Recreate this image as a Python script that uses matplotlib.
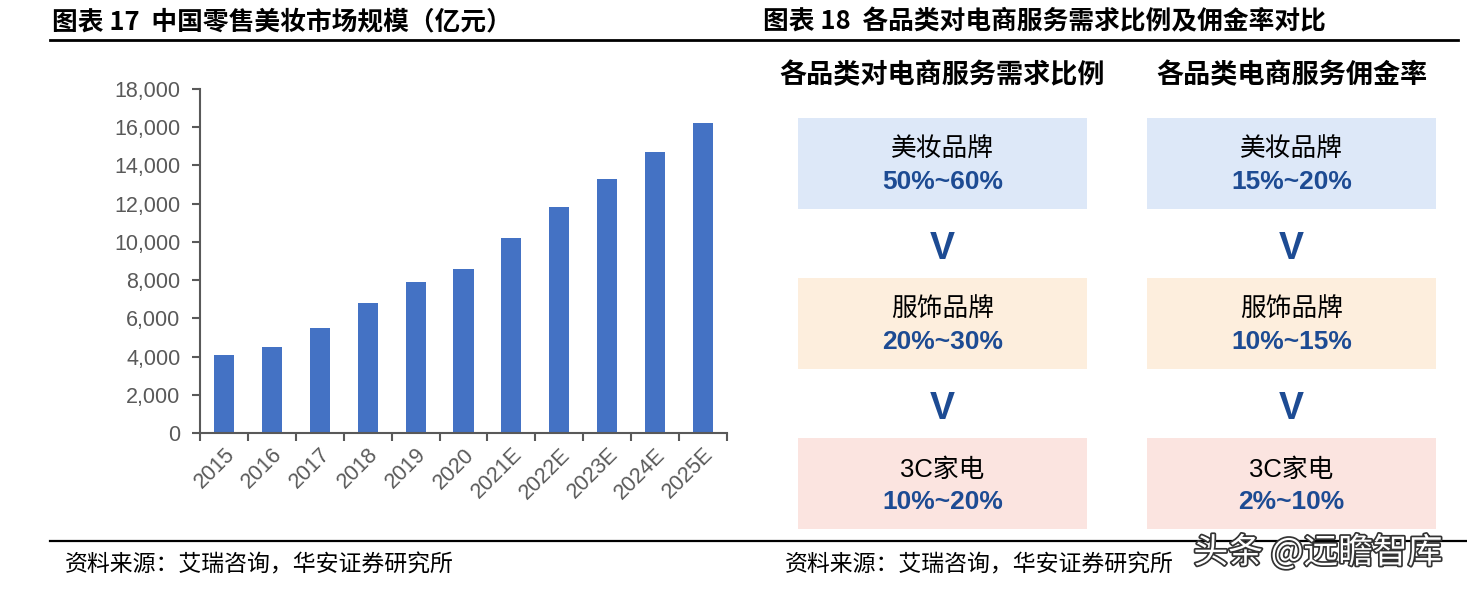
import numpy as np
import matplotlib.pyplot as plt
from matplotlib.patches import Rectangle
from matplotlib.ticker import FuncFormatter, FixedLocator
import matplotlib.patheffects as pe

plt.rcParams['font.family'] = ['Noto Sans CJK SC', 'DejaVu Sans']

# chart 17 data
years = ["2015", "2016", "2017", "2018", "2019", "2020",
         "2021E", "2022E", "2023E", "2024E", "2025E"]
market = [4100, 4500, 5500, 6800, 7900, 8600, 10200, 11800, 13300, 14700, 16200]

# chart 18 data
col_titles = ["各品类对电商服务需求比例", "各品类电商服务佣金率"]
categories = ["美妆品牌", "服饰品牌", "3C家电"]
demand_ratio = ["50%~60%", "20%~30%", "10%~20%"]
commission = ["15%~20%", "10%~15%", "2%~10%"]

W, H = 1467, 591
fig = plt.figure(figsize=(W / 100, H / 100), dpi=100)

# overlay in pixel coords for titles, lines and boxes
ov = fig.add_axes([0, 0, 1, 1])
ov.set_xlim(0, W)
ov.set_ylim(H, 0)
ov.axis("off")

ov.text(52, 22, "图表 17  中国零售美妆市场规模（亿元）", fontsize=18.5, fontweight="bold",
        va="center", ha="left")
ov.text(763, 22, "图表 18  各品类对电商服务需求比例及佣金率对比", fontsize=18.5, fontweight="bold",
        va="center", ha="left")
ov.plot([50, 1458], [40, 40], color="black", lw=2)
ov.plot([50, 1467], [541, 541], color="black", lw=1.6)
ov.text(65, 565, "资料来源：艾瑞咨询，华安证券研究所", fontsize=16.5, va="center", ha="left")
ov.text(785, 565, "资料来源：艾瑞咨询，华安证券研究所", fontsize=16.5, va="center", ha="left")

# boxes
box_colors = ["#dde8f8", "#fdeedd", "#fbe4e0"]
blue = "#1d4b93"
col_x = [798, 1147]
box_w = 289
row_y = [118, 278, 438]
box_h = 91
col_vals = [demand_ratio, commission]
for c in range(2):
    cx = col_x[c] + box_w / 2
    ov.text(cx, 75, col_titles[c], fontsize=19.5, fontweight="bold", ha="center", va="center")
    for r in range(3):
        ov.add_patch(Rectangle((col_x[c], row_y[r]), box_w, box_h,
                               facecolor=box_colors[r], edgecolor="none"))
        ov.text(cx, row_y[r] + 32, categories[r], fontsize=18.5, ha="center", va="center",
                family=["Liberation Sans", "Noto Sans CJK SC"])
        ov.text(cx, row_y[r] + 64, col_vals[c][r], fontsize=19, fontweight="bold",
                color=blue, ha="center", va="center", family="Liberation Sans")
        if r < 2:
            ov.text(cx, row_y[r] + box_h + 40, "V", fontsize=27, fontweight="bold",
                    color=blue, ha="center", va="center", family="Liberation Sans")

# watermark
ov.text(1318, 553, "头条 @远瞻智库", fontsize=25, color="white", ha="center", va="center",
        path_effects=[pe.withStroke(linewidth=2.5, foreground="#333333")])

# bar chart
ax = fig.add_axes([200 / W, (H - 433) / H, (727 - 200) / W, (433 - 89) / H])
x = np.arange(len(years))
ax.bar(x, market, width=0.42, color="#4472c4")
ax.set_xlim(-0.5, len(years) - 0.5)
ax.set_ylim(0, 18000)
ax.set_yticks(np.arange(0, 18001, 2000))
ax.yaxis.set_major_formatter(FuncFormatter(lambda v, p: f"{int(v):,}"))
ax.set_xticks(x)
ax.set_xticklabels(years, rotation=45, ha="right", rotation_mode="anchor")
ax.xaxis.set_minor_locator(FixedLocator(np.arange(-0.5, len(years), 1)))
ax.tick_params(axis="x", which="major", length=0, pad=8)
ax.tick_params(axis="x", which="minor", length=6, width=1.5, color="#595959")
ax.tick_params(axis="y", length=6, width=1.5, color="#595959", pad=8)
ax.tick_params(labelsize=15.5, labelcolor="#595959")
for lab in ax.get_xticklabels() + ax.get_yticklabels():
    lab.set_family("Liberation Sans")
for s in ["top", "right"]:
    ax.spines[s].set_visible(False)
for s in ["left", "bottom"]:
    ax.spines[s].set_color("#595959")
    ax.spines[s].set_linewidth(1.5)

fig.savefig("out.png", dpi=100)
